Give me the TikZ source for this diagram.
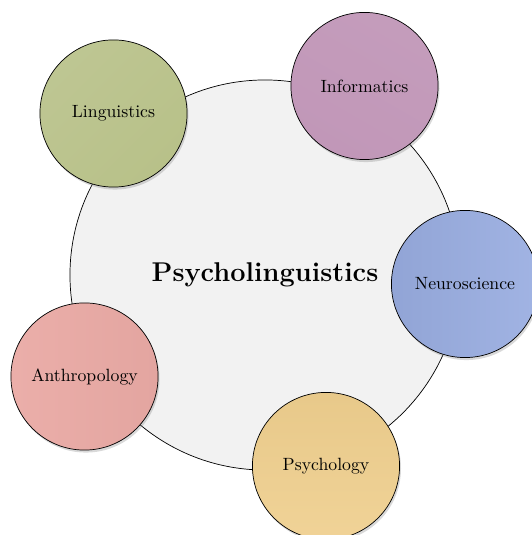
\documentclass[tikz,border=0pt]{standalone}
\usepackage{tikz}
\usetikzlibrary{shadows}

\definecolor{centregray}{HTML}{F2F2F2}
\definecolor{lingcol}{HTML}{B8C189}
\definecolor{infocol}{HTML}{C197B8}
\definecolor{neurocol}{HTML}{99ADE1}
\definecolor{psychcol}{HTML}{EFCF8E}
\definecolor{anthcol}{HTML}{EAAAA5}

\tikzset{
  centre/.style={circle, draw=black, thin, fill=centregray, minimum size=220pt,
    font=\fontsize{15.3}{18}\selectfont\bfseries},
  bubble/.style={circle, draw=black, thin, minimum size=83pt,
    drop shadow={opacity=0.3, shadow xshift=0.8pt, shadow yshift=-1.4pt}},
}

\begin{document}
\begin{tikzpicture}[x=0.564pt, y=0.564pt]
\useasboundingbox (0,0) rectangle (532,535);
% centre
\node[centre, text depth=3pt] (psyling) at (265,260) {Psycholinguistics};
% the five fields round it
\node[bubble, top color=lingcol!92!white, bottom color=lingcol, shading angle=45] (ling) at (113.5,421.5) {Linguistics};
\node[bubble, left color=infocol!95!white, right color=infocol, shading angle=-30] (info) at (364.5,449) {Informatics};
\node[bubble, left color=neurocol!95!black, right color=neurocol!92!white] (neuro) at (465,251) {Neuroscience};
\node[bubble, top color=psychcol!97!black, bottom color=psychcol!92!white] (psych) at (326,69) {Psychology};
\node[bubble, left color=anthcol!95!white, right color=anthcol!97!black] (anth) at (84.5,158.5) {Anthropology};
\end{tikzpicture}
\end{document}
